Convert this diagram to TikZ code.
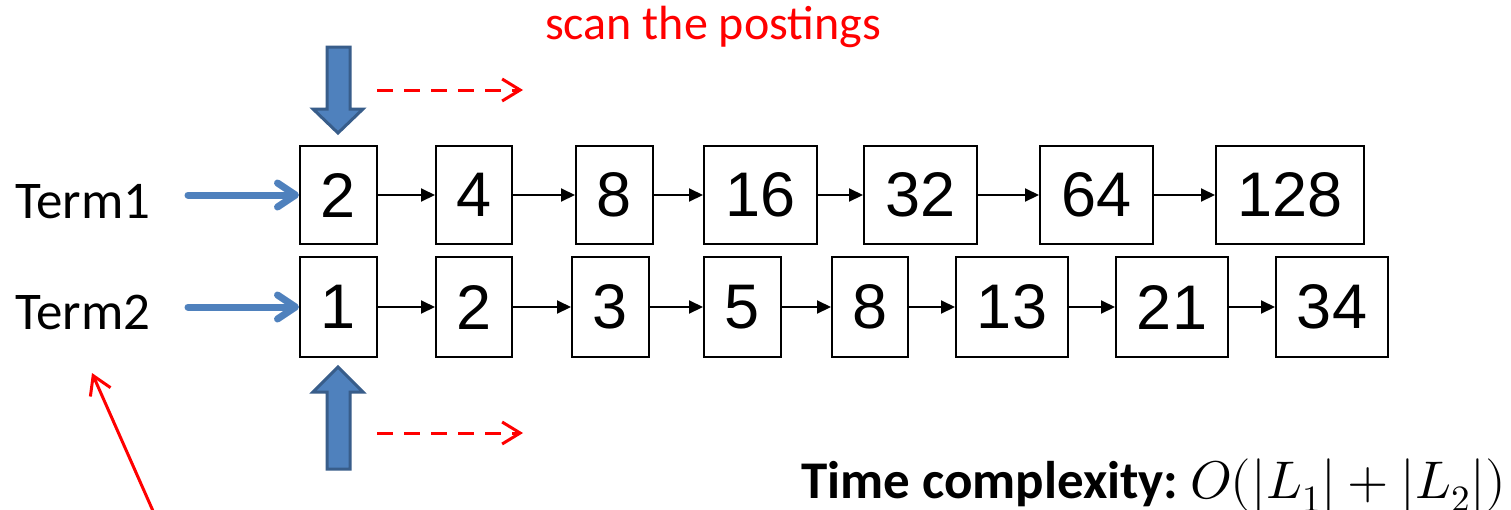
\documentclass[tikz,border=0pt]{standalone}
\usepackage{unicode-math}
\setmainfont{Carlito}
\setmathfont{Latin Modern Math}
\newfontfamily\numfont{Liberation Sans}
\usetikzlibrary{arrows.meta}
\definecolor{blk}{RGB}{79,129,189}
\definecolor{blkedge}{RGB}{56,93,138}
\definecolor{redc}{RGB}{255,0,0}
\tikzset{
  post/.style={draw=black, line width=2pt, inner sep=0pt, fill=white,
    font=\numfont\fontsize{63}{63}\selectfont},
  r1/.style={post, minimum height=98pt},
  r2/.style={post, minimum height=100pt},
  link/.style={line width=2pt, -{Triangle[length=14pt,width=13pt]}},
  termarrow/.style={draw=blk, line width=7pt, line cap=round,
    -{Straight Barb[length=18pt,width=24pt,round]}},
  scanarrow/.style={draw=redc, line width=3pt, dash pattern=on 16pt off 11pt,
    -{Straight Barb[length=18pt,width=22pt]}},
  blockarrow/.style={fill=blk, draw=blkedge, line width=3pt, line join=miter},
  termlabel/.style={inner sep=0pt, anchor=base west, font=\fontsize{53}{53}\selectfont},
}
\begin{document}
\begin{tikzpicture}[x=1pt, y=-1pt]
\clip (0,0) rectangle (1511,509);
\fill[white] (0,0) rectangle (1511,509);

% row 1
\node[r1, minimum width=77pt]  (a1) at (338.5,195) {2};
\node[r1, minimum width=76pt]  (a2) at (474,195) {4};
\node[r1, minimum width=77pt]  (a3) at (614.5,195) {8};
\node[r1, minimum width=113pt] (a4) at (760.5,195) {16};
\node[r1, minimum width=113pt] (a5) at (920.5,195) {32};
\node[r1, minimum width=113pt] (a6) at (1096.5,195) {64};
\node[r1, minimum width=148pt] (a7) at (1290,195) {128};
% row 2
\node[r2, minimum width=77pt]  (b1) at (338.5,307) {1};
\node[r2, minimum width=76pt]  (b2) at (474,307) {2};
\node[r2, minimum width=77pt]  (b3) at (610.5,307) {3};
\node[r2, minimum width=77pt]  (b4) at (742.5,307) {5};
\node[r2, minimum width=76pt]  (b5) at (870,307) {8};
\node[r2, minimum width=112pt] (b6) at (1012,307) {13};
\node[r2, minimum width=112pt] (b7) at (1172,307) {21};
\node[r2, minimum width=112pt] (b8) at (1332,307) {34};

\foreach \i/\j in {a1/a2,a2/a3,a3/a4,a4/a5,a5/a6,a6/a7,
                   b1/b2,b2/b3,b3/b4,b4/b5,b5/b6,b6/b7,b7/b8}
  \draw[link] (\i.east) -- (\j.west);

% term labels
\node[termlabel] (t1) at (15,218) {Term1};
\node[termlabel] (t2) at (15,329) {Term2};
\coordinate (t1s) at (188,195);
\coordinate (t2s) at (188,307);
\draw[termarrow] (t1s) -- (a1.west);
\draw[termarrow] (t2s) -- (b1.west);

% block arrows
\draw[blockarrow] (327,47) -- (350,47) -- (350,109) -- (363,109) -- (338,133)
  -- (313,109) -- (327,109) -- cycle;
\draw[blockarrow] (327,469) -- (350,469) -- (350,392) -- (363,392) -- (338,367)
  -- (313,392) -- (327,392) -- cycle;

% scan arrows
\coordinate (s1a) at (377,90);
\coordinate (s1b) at (523,90);
\coordinate (s2a) at (377,433);
\coordinate (s2b) at (523,433);
\draw[scanarrow] (s1a) -- (s1b);
\draw[scanarrow] (s2a) -- (s2b);

\node[inner sep=0pt, anchor=base west, text=redc, font=\fontsize{48}{48}\selectfont]
  (scan) at (545,39) {scan the postings};

% red pointer
\coordinate (rp0) at (157,520);
\coordinate (rp1) at (92,373);
\draw[draw=redc, line width=3pt, -{Straight Barb[length=18pt,width=22pt]}] (rp0) -- (rp1);

% time complexity
\node[inner sep=0pt, anchor=base west, font=\fontsize{53}{53}\selectfont\bfseries]
  (tc) at (801,498) {Time complexity:};
\node[inner sep=0pt, anchor=base west, font=\fontsize{53}{53}\selectfont]
  (tcm) at (1190,498) {$O(|L_1|+|L_2|)$};
\end{tikzpicture}
\end{document}
